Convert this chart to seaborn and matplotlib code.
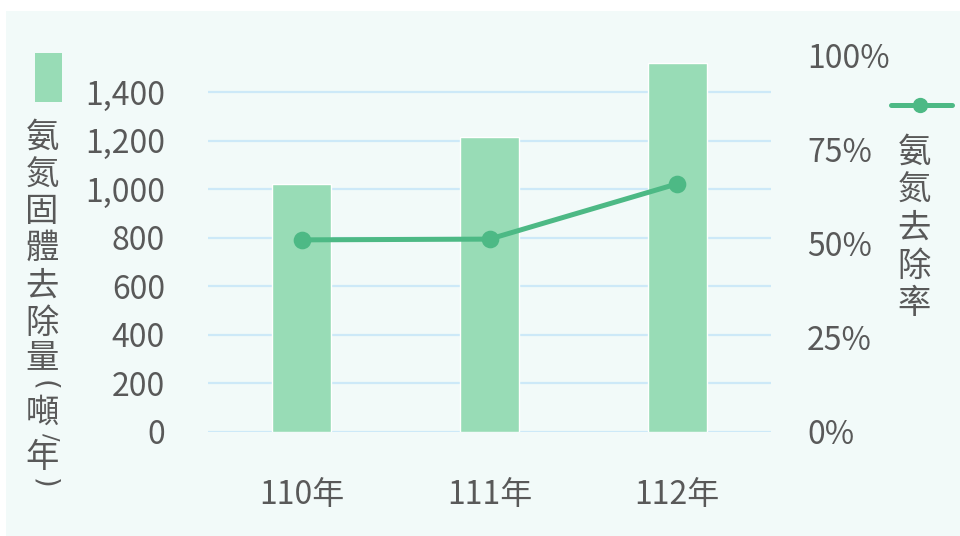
import matplotlib
matplotlib.use("Agg")
import matplotlib.pyplot as plt
import seaborn as sns
import pandas as pd
from matplotlib.patches import Rectangle
from matplotlib.lines import Line2D

years = ["110年", "111年", "112年"]
removal_tons = [1020, 1215, 1520]
removal_rate = [0.511, 0.513, 0.66]
left_ticks = [0, 200, 400, 600, 800, 1000, 1200, 1400]
left_tick_labels = ["0", "200", "400", "600", "800", "1,000", "1,200", "1,400"]
right_ticks = [0, 0.25, 0.5, 0.75, 1.0]
right_tick_labels = ["0%", "25%", "50%", "75%", "100%"]
left_label_chars = ["氨", "氮", "固", "體", "去", "除", "量", "(", "噸", "/", "年", ")"]
right_label_chars = ["氨", "氮", "去", "除", "率"]

BAR = "#98DCB6"
LINE = "#4DB985"
GRID = "#CDE9F8"
TXT = "#595959"
BG = "#F2FAF9"

sns.set_theme(style="white")
plt.rcParams["font.family"] = ["Noto Sans CJK TC", "DejaVu Sans"]

W, H = 960, 536
fig = plt.figure(figsize=(9.6, 5.36), dpi=100, facecolor="white")
fig.patches.append(Rectangle((6 / W, 0), 1 - 6 / W, 1 - 11 / H, transform=fig.transFigure,
                             facecolor=BG, edgecolor="none", zorder=-10))

ax = fig.add_axes([208 / W, 1 - 432 / H, (771 - 208) / W, (432 - 56) / H])
ax.set_facecolor("none")
df = pd.DataFrame({"year": years, "tons": removal_tons, "rate": removal_rate})
sns.barplot(data=df, x="year", y="tons", ax=ax, color=BAR, saturation=1, width=0.315, zorder=3)
ax.set_ylim(0, 1548)
ax.set_xlim(-0.5, 2.5)
ax.set_yticks(left_ticks)
ax.set_yticklabels(left_tick_labels)
ax.yaxis.grid(True, color=GRID, linewidth=1.6, zorder=0)
ax.set_axisbelow(True)
for s in ax.spines.values():
    s.set_visible(False)
ax.tick_params(axis="y", length=0, pad=31, labelsize=23, labelcolor=TXT)
ax.tick_params(axis="x", length=0, pad=34, labelsize=23, labelcolor=TXT)
ax.set_xlabel("")
ax.set_ylabel("")

ax2 = ax.twinx()
sns.pointplot(data=df, x="year", y="rate", ax=ax2, color=LINE, linewidth=3.6,
              markersize=10, markers="o", errorbar=None)
ax2.set_xlim(-0.5, 2.5)
ax2.set_ylim(0, 1)
ax2.set_yticks(right_ticks)
ax2.set_yticklabels(right_tick_labels)
for s in ax2.spines.values():
    s.set_visible(False)
ax2.tick_params(axis="y", length=0, pad=26, labelsize=23, labelcolor=TXT)
ax2.set_ylabel("")
ax2.set_xlabel("")
ax2.grid(False)

# left legend patch
fig.patches.append(Rectangle((35 / W, 1 - 102 / H), 27 / W, 49 / H, transform=fig.transFigure,
                             facecolor=BAR, edgecolor="none"))
# right legend line
fig.lines.append(Line2D([891 / W, 952 / W], [1 - 105 / H, 1 - 105 / H], transform=fig.transFigure,
                        color=LINE, linewidth=3.6))
fig.lines.append(Line2D([920 / W], [1 - 105 / H], transform=fig.transFigure, color=LINE,
                        marker="o", markersize=10, linestyle="none"))

# left vertical label (stacked characters, ASCII signs turned as in vertical text)
left_pos = [(42, 137, 24, 0), (42, 175, 24, 0), (42, 212, 24, 0), (42, 248, 24, 0),
            (42, 286, 24, 0), (42, 323, 24, 0), (42, 358, 24, 0), (44, 385, 20, -90),
            (42, 413, 24, 0), (50, 437, 16, -90), (42, 458, 24, 0), (44, 483, 20, -90)]
for ch, (xx, yy, size, rot) in zip(left_label_chars, left_pos):
    fig.text(xx / W, 1 - yy / H, ch, ha="center", va="center", fontsize=size, color=TXT,
             rotation=rot, family=["DejaVu Sans"] if rot else ["Noto Sans CJK TC", "DejaVu Sans"])

right_y = [152, 190, 228, 266, 304]
for ch, yy in zip(right_label_chars, right_y):
    fig.text(914 / W, 1 - yy / H, ch, ha="center", va="center", fontsize=24, color=TXT)

fig.savefig("out.png", dpi=100, facecolor="white")
